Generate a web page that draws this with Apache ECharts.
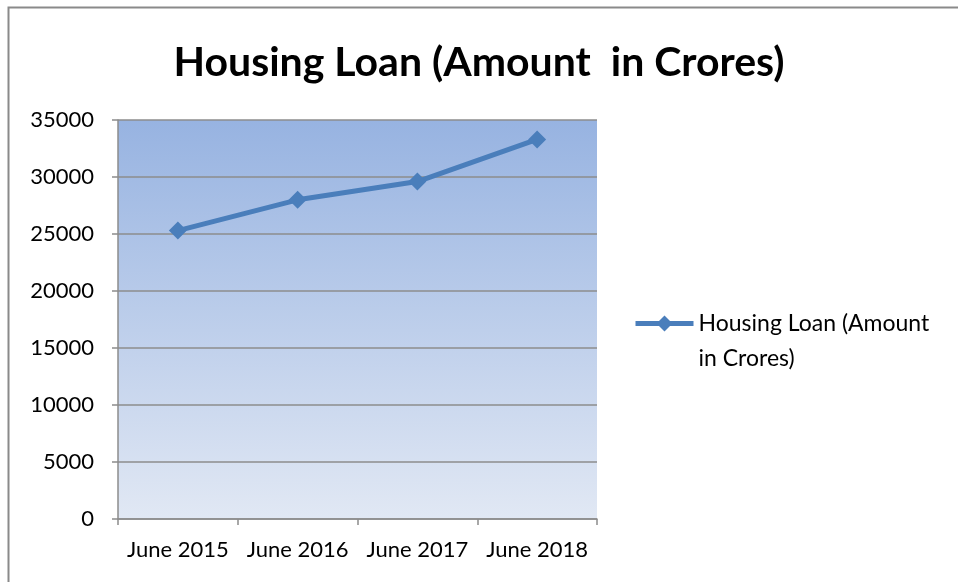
<!DOCTYPE html>
<html>
<head>
<meta charset="utf-8">
<script src="https://cdn.jsdelivr.net/npm/echarts@6/dist/echarts.min.js"></script>
<style>
  html, body { margin: 0; padding: 0; background: #fff; }
  #chart { width: 958px; height: 582px; }
</style>
</head>
<body>
<div id="chart"></div>
<script>
// values
const categories = ['June 2015', 'June 2016', 'June 2017', 'June 2018']
const loanAmounts = [25300, 28000, 29600, 33300]
const seriesName = 'Housing Loan (Amount in Crores)'

const chart = echarts.init(document.getElementById('chart'), undefined, { renderer: 'canvas' })
const gray = '#8c8c8c'
const blue = '#4a7ebb'
const font = "Lato, 'Open Sans', sans-serif"

chart.setOption({
  animation: false,
  backgroundColor: '#fff',
  title: {
    text: 'Housing Loan (Amount  in Crores)',
    left: 'center',
    top: 37,
    textStyle: { fontFamily: font, fontSize: 41, fontWeight: 'bold', color: '#000' }
  },
  // outer chart frame, only the top and left edges fall inside the picture
  graphic: [
    {
      type: 'polyline',
      shape: { points: [[8.5, 600], [8.5, 7.5], [980, 7.5]] },
      style: { fill: 'none', stroke: '#8a8a8a', lineWidth: 2 },
      silent: true
    }
  ],
  legend: {
    orient: 'vertical',
    left: 628,
    top: 266,
    itemWidth: 58,
    itemHeight: 20,
    textStyle: { fontFamily: font, fontSize: 23, color: '#000', lineHeight: 35 },
    lineStyle: { width: 5 },
    // blank first line keeps the icon level with the first text line
    formatter: () => ' \nHousing Loan (Amount\nin Crores)',
    data: [seriesName]
  },
  grid: {
    left: 118,
    right: 361,
    top: 120,
    bottom: 63,
    show: true,
    borderWidth: 0,
    backgroundColor: new echarts.graphic.LinearGradient(0, 0, 0, 1, [
      { offset: 0, color: '#97b3e1' },
      { offset: 1, color: '#e1e8f4' }
    ])
  },
  xAxis: {
    type: 'category',
    data: categories,
    boundaryGap: true,
    axisLine: { lineStyle: { color: gray, width: 1.5 } },
    axisTick: { show: true, length: 6, lineStyle: { color: gray, width: 1.5 } },
    axisLabel: { interval: 0, fontFamily: font, fontSize: 22, color: '#000', margin: 20 }
  },
  yAxis: {
    type: 'value',
    min: 0,
    max: 35000,
    interval: 5000,
    axisLine: { show: true, lineStyle: { color: gray, width: 1.5 } },
    axisTick: { show: true, length: 6, lineStyle: { color: gray, width: 1.5 } },
    splitLine: { lineStyle: { color: gray, width: 1.5 } },
    axisLabel: { fontFamily: font, fontSize: 22, color: '#000', margin: 24, formatter: (v) => String(v) }
  },
  series: [
    {
      name: seriesName,
      type: 'line',
      data: loanAmounts,
      symbol: 'diamond',
      symbolSize: 18,
      lineStyle: { color: blue, width: 5 },
      itemStyle: { color: blue }
    }
  ]
})
</script>
</body>
</html>
